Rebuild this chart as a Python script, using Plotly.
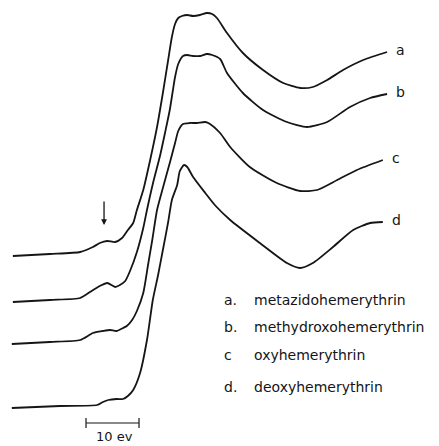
import plotly.graph_objects as go

# Relative photon energy (eV; scale bar spans 0-10 eV) and absorbance (arb. units, offset stacked)
energy_a = [-13.8, -6.8, -1.1, 1.3, 2.6, 4.0, 5.5, 6.8, 7.9, 8.9, 9.6, 10.8, 12.1, 13.4, 14.5, 15.5,
            16.2, 16.8, 17.4, 18.1, 19.1, 20.2, 21.5, 22.8, 23.8, 24.7, 26.6, 29.6, 33.4, 37.2, 40.4,
            42.8, 45.5, 48.5, 52.3, 56.8]
absorb_a = [1.90, 1.92, 1.94, 1.99, 2.03, 2.05, 2.04, 2.08, 2.16, 2.23, 2.36, 2.56, 2.86, 3.19, 3.53, 3.86,
            4.09, 4.22, 4.28, 4.30, 4.31, 4.30, 4.31, 4.33, 4.32, 4.28, 4.13, 3.93, 3.76, 3.63, 3.58,
            3.59, 3.66, 3.76, 3.86, 3.94]

energy_b = [-13.8, -6.8, -1.1, 0.75, 2.6, 4.0, 5.5, 6.4, 7.4, 8.3, 9.6, 10.8, 11.5, 12.6, 14.0, 14.9,
            15.8, 16.4, 16.8, 17.4, 18.3, 19.1, 20.2, 21.5, 22.8, 23.8, 25.3, 26.6, 29.6, 33.4, 37.9,
            41.7, 45.5, 49.8, 53.6, 56.8]
absorb_b = [1.44, 1.46, 1.48, 1.54, 1.60, 1.63, 1.59, 1.61, 1.65, 1.75, 1.94, 2.18, 2.36, 2.62, 2.91, 3.13,
            3.36, 3.56, 3.69, 3.82, 3.90, 3.91, 3.90, 3.90, 3.92, 3.91, 3.87, 3.73, 3.53, 3.36, 3.24,
            3.19, 3.24, 3.39, 3.48, 3.52]

energy_c = [-14.0, -6.8, -1.1, 1.3, 3.2, 4.5, 5.8, 7.0, 7.7, 8.7, 9.6, 10.8, 11.7, 12.5, 13.4, 14.5,
            15.8, 16.8, 17.4, 18.3, 19.6, 20.9, 22.5, 23.4, 25.3, 27.2, 30.9, 36.0, 40.4, 43.6, 47.4,
            51.1, 56.0]
absorb_c = [1.02, 1.04, 1.06, 1.13, 1.15, 1.16, 1.15, 1.18, 1.20, 1.26, 1.35, 1.53, 1.81, 2.06, 2.36, 2.58,
            2.83, 3.03, 3.15, 3.22, 3.23, 3.23, 3.24, 3.22, 3.13, 2.99, 2.79, 2.63, 2.55, 2.56, 2.66,
            2.76, 2.86]

energy_d = [-14.0, -4.9, 2.1, 3.2, 4.2, 5.8, 7.0, 7.9, 8.9, 10.2, 11.5, 12.6, 13.6, 14.5, 15.5, 16.2,
            17.2, 17.7, 18.5, 19.1, 20.2, 22.5, 24.3, 27.2, 32.8, 37.9, 40.4, 42.8, 46.6, 50.4, 53.6, 56.0]
absorb_d = [0.38, 0.40, 0.41, 0.44, 0.46, 0.47, 0.47, 0.50, 0.56, 0.73, 1.06, 1.46, 1.71, 1.96, 2.24, 2.46,
            2.61, 2.75, 2.81, 2.79, 2.69, 2.53, 2.41, 2.26, 2.03, 1.83, 1.78, 1.83, 1.99, 2.16, 2.23, 2.24]

curve_ids = ["a", "b", "c", "d"]
sample_names = ["metazidohemerythrin", "methydroxohemerythrin", "oxyhemerythrin", "deoxyhemerythrin"]
legend_prefix = ["a.", "b.", "c", "d."]

scale_bar_energy = [0, 10]
scale_bar_level = [0.23, 0.23]
scale_bar_label = "10 ev"
arrow_energy = 3.4
arrow_top, arrow_tip = 2.46, 2.21

INK = "#151515"
FONT = "DejaVu Sans"

fig = go.Figure()
series = [(energy_a, absorb_a), (energy_b, absorb_b), (energy_c, absorb_c), (energy_d, absorb_d)]
for cid, (ex, ay) in zip(curve_ids, series):
    fig.add_trace(go.Scatter(x=ex, y=ay, mode="lines", name=cid,
                             line=dict(color=INK, width=1.8, shape="spline", smoothing=0.6),
                             showlegend=False, hoverinfo="skip"))

# scale bar
fig.add_trace(go.Scatter(x=scale_bar_energy, y=scale_bar_level, mode="lines+markers",
                         line=dict(color=INK, width=1.2),
                         marker=dict(symbol="line-ns", size=7, line=dict(color=INK, width=1.2)),
                         showlegend=False, hoverinfo="skip"))

annotations = []
# curve end labels
for cid, (ex, ay) in zip(curve_ids, series):
    annotations.append(dict(x=ex[-1] + 1.3, y=ay[-1] + 0.02, text=cid, showarrow=False,
                            xanchor="left", yanchor="middle",
                            font=dict(family=FONT, size=14, color=INK)))

# legend text block
legend_y = [1 - 300 / 446, 1 - 327 / 446, 1 - 355 / 446, 1 - 387 / 446]
for pre, name, ly in zip(legend_prefix, sample_names, legend_y):
    annotations.append(dict(x=222 / 439, y=ly, xref="paper", yref="paper", text=pre,
                            showarrow=False, xanchor="left", yanchor="middle",
                            font=dict(family=FONT, size=14, color=INK)))
    annotations.append(dict(x=252 / 439, y=ly, xref="paper", yref="paper", text=name,
                            showarrow=False, xanchor="left", yanchor="middle",
                            font=dict(family=FONT, size=14, color=INK)))

annotations.append(dict(x=sum(scale_bar_energy) / 2 + 0.3, y=scale_bar_level[0] - 0.135,
                        text=scale_bar_label, showarrow=False, xanchor="center", yanchor="middle",
                        font=dict(family=FONT, size=13, color=INK)))

annotations.append(dict(x=arrow_energy, y=arrow_tip, ax=arrow_energy, ay=arrow_top,
                        xref="x", yref="y", axref="x", ayref="y", text="",
                        showarrow=True, arrowhead=2, arrowsize=0.9, arrowwidth=1.3, arrowcolor=INK))

fig.update_layout(
    width=439, height=446,
    margin=dict(l=0, r=0, t=0, b=0),
    paper_bgcolor="white", plot_bgcolor="white",
    xaxis=dict(range=[-16.23, 66.60], visible=False, fixedrange=True),
    yaxis=dict(range=[0, 4.46], visible=False, fixedrange=True),
    annotations=annotations,
    showlegend=False,
)

fig.write_html("out.html")
